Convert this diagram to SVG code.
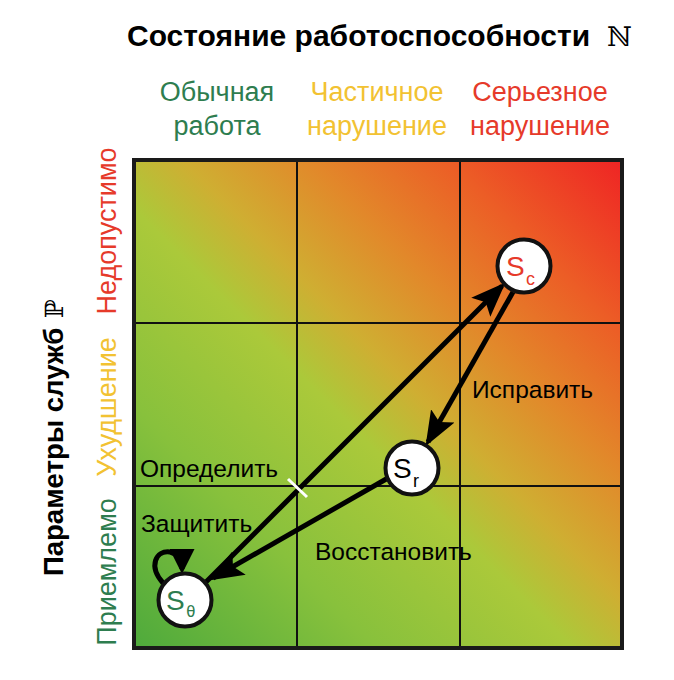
<svg xmlns="http://www.w3.org/2000/svg" width="674" height="680" viewBox="0 0 674 680">
<defs>
<linearGradient id="bg" gradientUnits="userSpaceOnUse" x1="134" y1="648" x2="622" y2="160">
<stop offset="0" stop-color="#4eaa3c"/>
<stop offset="0.25" stop-color="#88c13c"/>
<stop offset="0.45" stop-color="#abc93a"/>
<stop offset="0.55" stop-color="#cfae32"/>
<stop offset="0.68" stop-color="#e2882a"/>
<stop offset="0.82" stop-color="#ec5e26"/>
<stop offset="1" stop-color="#ef2424"/>
</linearGradient>
<marker id="ah" markerWidth="7" markerHeight="6" refX="6" refY="3" orient="auto" markerUnits="strokeWidth">
<path d="M0,0.3 L7,3 L0,5.7 L1.4,3 Z" fill="#000"/>
</marker>
<marker id="ahs" markerWidth="5" markerHeight="5" refX="4" refY="2.5" orient="auto" markerUnits="strokeWidth">
<path d="M0,0 L5,2.5 L0,5 Z" fill="#000"/>
</marker>
</defs>
<style>
.t{font-family:"Liberation Sans",Arial,sans-serif}
.hd{font-size:27px;text-anchor:middle}
.lb{font-size:24.5px;fill:#000}
.nd{fill:#fff;stroke:#111;stroke-width:4}
.ln{stroke:#111;stroke-width:2}
.cn{stroke:#000;stroke-width:5;fill:none}
.g{fill:#2e7d4f}.y{fill:#f2c232}.r{fill:#e63a2a}
</style>
<g id="grid">
<rect x="134" y="160" width="488" height="488" fill="url(#bg)"/>
<line class="ln" x1="297" y1="160" x2="297" y2="648"/>
<line class="ln" x1="460" y1="160" x2="460" y2="648"/>
<line class="ln" x1="134" y1="323" x2="622" y2="323"/>
<line class="ln" x1="134" y1="486" x2="622" y2="486"/>
<rect x="134" y="160" width="488" height="488" fill="none" stroke="#1a1a1a" stroke-width="4"/>
</g>
<g id="titles" class="t">
<text x="127" y="46" font-size="30" font-weight="bold" fill="#000">Состояние работоспособности</text>
<text x="607" y="46" font-size="27" fill="#000" font-family="DejaVu Serif,serif">ℕ</text>
<text class="hd g" x="217" y="101">Обычная</text>
<text class="hd g" x="217" y="135">работа</text>
<text class="hd y" x="377" y="101">Частичное</text>
<text class="hd y" x="377" y="135">нарушение</text>
<text class="hd r" x="540" y="101">Серьезное</text>
<text class="hd r" x="540" y="135">нарушение</text>
<g transform="translate(63,576) rotate(-90)">
<text x="0" y="0" font-size="27.5" font-weight="bold" fill="#000">Параметры служб</text>
<text x="258" y="0" font-size="25" fill="#000" font-family="DejaVu Serif,serif">ℙ</text>
</g>
<text class="hd g" transform="translate(116,572) rotate(-90)">Приемлемо</text>
<text class="hd y" transform="translate(116,407) rotate(-90)">Ухудшение</text>
<text class="hd r" transform="translate(116,231) rotate(-90)">Недопустимо</text>
</g>
<g id="connectors">
<line class="cn" x1="206" y1="582" x2="502" y2="286" marker-end="url(#ah)"/>
<line class="cn" x1="513" y1="292" x2="428" y2="442" marker-end="url(#ah)"/>
<line class="cn" x1="388" y1="478" x2="213" y2="578" marker-end="url(#ah)"/>
<path class="cn" d="M163,583 C148,566 156,550 170,552 C179,554 182,561 182,569" marker-end="url(#ahs)" stroke-width="4"/>
<line x1="288" y1="479" x2="307" y2="497" stroke="#fff" stroke-width="3"/>
</g>
<g id="labels" class="t">
<text class="lb" x="140" y="477">Определить</text>
<text class="lb" x="141" y="532">Защитить</text>
<text class="lb" x="315" y="560">Восстановить</text>
<text class="lb" x="472" y="398">Исправить</text>
</g>
<g id="S0">
<circle class="nd" cx="185" cy="600" r="26.5"/>
<text class="t g" x="166" y="610" font-size="28">S</text>
<text class="g" x="186" y="617" font-size="16" font-family="DejaVu Sans Mono,monospace">θ</text>
</g>
<g id="Sc">
<circle class="nd" cx="524" cy="266" r="26.5"/>
<text class="t r" x="506" y="276" font-size="28">S</text>
<text class="t r" x="526" y="285" font-size="18">c</text>
</g>
<g id="Sr">
<circle class="nd" cx="412" cy="468" r="26.5"/>
<text class="t" x="393" y="478" font-size="28" fill="#000">S</text>
<text class="t" x="413" y="487" font-size="18" fill="#000">r</text>
</g>
</svg>
